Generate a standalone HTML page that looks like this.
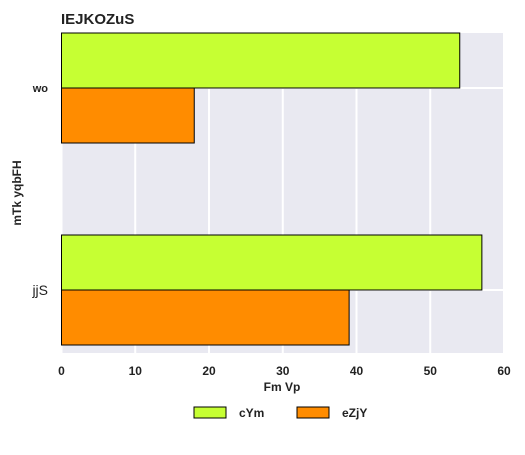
<!DOCTYPE html>
<html><head><meta charset="utf-8"><style>
body{margin:0;background:#fff;font-family:"Liberation Sans",sans-serif;}
svg text{font-family:"Liberation Sans",sans-serif;}
</style></head><body>
<svg width="525" height="450" xmlns="http://www.w3.org/2000/svg">
<text x="61" y="24" font-size="15" font-weight="bold" fill="#222">IEJKOZuS</text>
<rect x="61.5" y="33" width="442.5" height="320" fill="#e9e9f1"/>
<g id="grid"></g>
<g id="bars"></g>
<g id="ticks"></g>
<text x="282" y="391" font-size="12" font-weight="bold" text-anchor="middle" fill="#222">Fm Vp</text>
<text transform="translate(21,193) rotate(-90)" font-size="12" font-weight="bold" text-anchor="middle" fill="#222">mTk yqbFH</text>
<g>
<g>
<rect x="194" y="407" width="32" height="11" fill="#c6ff33" stroke="#000" stroke-width="1"/>
<text x="239" y="417" font-size="12" font-weight="bold" fill="#222">cYm</text></g>
<g>
<rect x="297" y="407" width="32" height="11" fill="#ff8c00" stroke="#000" stroke-width="1"/>
<text x="342" y="417" font-size="12" font-weight="bold" fill="#222">eZjY</text></g>
</g>
</svg>
<script>
const categories=["wo","jjS"];
const cYm=[54,57];
const eZjY=[18,39];
const xTicks=[0,10,20,30,40,50,60];
const NS="http://www.w3.org/2000/svg";
const x=v=>61.5+v*(442.5/60);
const y=i=>88+i*202;
const bh=55;
function mk(t,a,p){const e=document.createElementNS(NS,t);for(const k in a)e.setAttribute(k,a[k]);p.appendChild(e);return e;}
const grid=document.getElementById('grid'),bars=document.getElementById('bars'),ticks=document.getElementById('ticks');
xTicks.forEach(t=>{
 const l=mk('line',{x1:x(t),x2:x(t),y1:33,y2:353,stroke:'#fff','stroke-width':2},grid);
 
 
 const tx=mk('text',{x:x(t),y:375,'font-size':12,'font-weight':'bold','text-anchor':'middle',fill:'#222'},ticks);
 tx.textContent=t;
 
 
});
categories.forEach((c,i)=>{
 const g=mk('line',{x1:61.5,x2:504,y1:y(i),y2:y(i),stroke:'#fff','stroke-width':2},grid);
 
 
 const b1=mk('rect',{x:x(0),y:y(i)-bh,width:x(cYm[i])-x(0),height:bh,fill:'#c6ff33',stroke:'#000','stroke-width':1},bars);
 
 
 const b2=mk('rect',{x:x(0),y:y(i),width:x(eZjY[i])-x(0),height:bh,fill:'#ff8c00',stroke:'#000','stroke-width':1},bars);
 
 
 const t=mk('text',{x:48,y:y(i)+(i==0?4:5),'text-anchor':'end',fill:'#222','font-size':i==0?11:14,'font-weight':i==0?'bold':'normal'},ticks);
 t.textContent=c;
 
 
});
</script>
</body></html>
